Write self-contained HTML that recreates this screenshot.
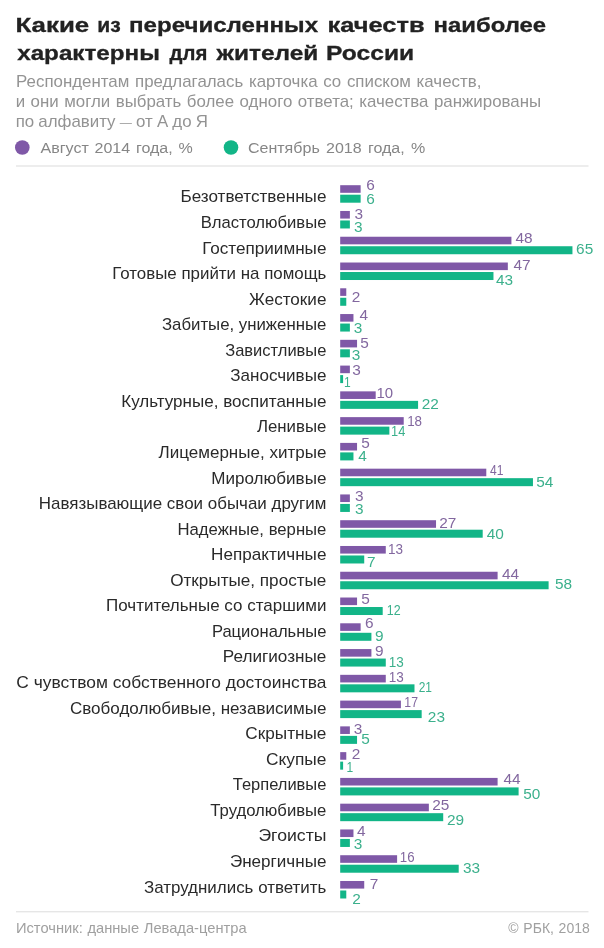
<!DOCTYPE html>
<html lang="ru"><head><meta charset="utf-8"><title>Какие из перечисленных качеств наиболее характерны для жителей России</title>
<style>
html,body{margin:0;padding:0;background:#fff}
svg{display:block}
text{font-family:"Liberation Sans",sans-serif}
.t{font-weight:bold;font-size:21px;fill:#222;stroke:#222;stroke-width:.3px}
.s{font-size:16px;fill:#939393}
.lg{font-size:15.5px;fill:#868686}
.l{font-size:15.7px;fill:#2a2a2a;text-anchor:end}
.vp{font-size:14px;fill:#82679f}
.vg{font-size:14px;fill:#3bb08c}
.f{font-size:14px;fill:#a0a0a0}
</style></head><body>
<svg width="604" height="948" viewBox="0 0 604 948">
<rect width="604" height="948" fill="#fff"/>

<g transform="translate(15.46 31.6) scale(1.2328 1)"><text class="t" x="0" y="0">Какие</text></g>
<g transform="translate(97.24 31.6) scale(1.0047 1)"><text class="t" x="0" y="0">из</text></g>
<g transform="translate(128.97 31.6) scale(1.1475 1)"><text class="t" x="0" y="0">перечисленных</text></g>
<g transform="translate(327.49 31.6) scale(1.2115 1)"><text class="t" x="0" y="0">качеств</text></g>
<g transform="translate(433.58 31.6) scale(1.1373 1)"><text class="t" x="0" y="0">наиболее</text></g>
<g transform="translate(17.20 60.2) scale(1.1527 1)"><text class="t" x="0" y="0">характерны</text></g>
<g transform="translate(169.60 60.2) scale(0.9722 1)"><text class="t" x="0" y="0">для</text></g>
<g transform="translate(216.59 60.2) scale(1.1642 1)"><text class="t" x="0" y="0">жителей</text></g>
<g transform="translate(326.03 60.2) scale(1.1725 1)"><text class="t" x="0" y="0">России</text></g>
<g transform="translate(16.08 87) scale(1.0550 1)"><text class="s" x="0" y="0" style="word-spacing:0.947px">Респондентам предлагалась карточка со списком качеств,</text></g>
<g transform="translate(15.64 107.3) scale(1.0550 1)"><text class="s" x="0" y="0" style="word-spacing:0.757px">и они могли выбрать более одного ответа; качества ранжированы</text></g>
<g transform="translate(15.64 127.4) scale(1.0550 1)"><text class="s" x="0" y="0" style="word-spacing:-0.491px">по алфавиту <tspan style="font-size:11.5px" dy="-1.4">—</tspan><tspan dy="1.4"> от</tspan> А до Я</text></g>
<circle cx="22.3" cy="147.5" r="7.3" fill="#7f58a7"/>
<circle cx="231" cy="147.5" r="7.3" fill="#12b587"/>
<g transform="translate(40.50 153.4) scale(1.0350 1)"><text class="lg" x="0" y="0" style="word-spacing:1.241px">Август 2014 года, %</text></g>
<g transform="translate(247.92 153.4) scale(1.0350 1)"><text class="lg" x="0" y="0" style="word-spacing:1.734px">Сентябрь 2018 года, %</text></g>
<rect x="16" y="165.5" width="572.5" height="1" fill="#dcdcdc"/>
<g transform="translate(326.4 202.40) scale(1.0906 1)"><text class="l" x="0" y="0">Безответственные</text></g>
<rect x="340.2" y="185.20" width="20.44" height="7.6" fill="#7f58a7"/>
<rect x="340.2" y="194.70" width="20.44" height="8" fill="#12b587"/>
<g transform="translate(366.32 189.50) scale(1.1 1)"><text class="vp" x="0" y="0">6</text></g>
<g transform="translate(366.32 203.70) scale(1.1 1)"><text class="vg" x="0" y="0">6</text></g>
<g transform="translate(326.4 227.96) scale(1.0603 1)"><text class="l" x="0" y="0">Властолюбивые</text></g>
<rect x="340.2" y="210.97" width="9.67" height="7.6" fill="#7f58a7"/>
<rect x="340.2" y="220.47" width="9.67" height="8" fill="#12b587"/>
<g transform="translate(354.41 218.80) scale(1.1 1)"><text class="vp" x="0" y="0">3</text></g>
<g transform="translate(354.11 231.70) scale(1.1 1)"><text class="vg" x="0" y="0">3</text></g>
<g transform="translate(326.4 253.52) scale(1.0907 1)"><text class="l" x="0" y="0">Гостеприимные</text></g>
<rect x="340.2" y="236.74" width="171.22" height="7.6" fill="#7f58a7"/>
<rect x="340.2" y="246.24" width="232.25" height="8" fill="#12b587"/>
<g transform="translate(515.55 242.60) scale(1.1 1)"><text class="vp" x="0" y="0">48</text></g>
<g transform="translate(576.12 254.00) scale(1.1 1)"><text class="vg" x="0" y="0">65</text></g>
<g transform="translate(326.4 279.08) scale(1.0775 1)"><text class="l" x="0" y="0">Готовые прийти на помощь</text></g>
<rect x="340.2" y="262.51" width="167.63" height="7.6" fill="#7f58a7"/>
<rect x="340.2" y="272.01" width="153.27" height="8" fill="#12b587"/>
<g transform="translate(513.55 270.30) scale(1.1 1)"><text class="vp" x="0" y="0">47</text></g>
<g transform="translate(496.05 284.70) scale(1.1 1)"><text class="vg" x="0" y="0">43</text></g>
<g transform="translate(326.4 304.64) scale(1.09 1)"><text class="l" x="0" y="0">Жестокие</text></g>
<rect x="340.2" y="288.28" width="6.08" height="7.6" fill="#7f58a7"/>
<rect x="340.2" y="297.78" width="6.08" height="8" fill="#12b587"/>
<g transform="translate(351.73 301.90) scale(1.1 1)"><text class="vp" x="0" y="0">2</text></g>
<g transform="translate(326.4 330.20) scale(1.0701 1)"><text class="l" x="0" y="0">Забитые, униженные</text></g>
<rect x="340.2" y="314.05" width="13.26" height="7.6" fill="#7f58a7"/>
<rect x="340.2" y="323.55" width="9.67" height="8" fill="#12b587"/>
<g transform="translate(359.55 320.40) scale(1.1 1)"><text class="vp" x="0" y="0">4</text></g>
<g transform="translate(353.71 333.30) scale(1.1 1)"><text class="vg" x="0" y="0">3</text></g>
<g transform="translate(326.4 355.76) scale(1.0515 1)"><text class="l" x="0" y="0">Завистливые</text></g>
<rect x="340.2" y="339.82" width="16.85" height="7.6" fill="#7f58a7"/>
<rect x="340.2" y="349.32" width="9.67" height="8" fill="#12b587"/>
<g transform="translate(360.18 348.20) scale(1.1 1)"><text class="vp" x="0" y="0">5</text></g>
<g transform="translate(351.71 360.10) scale(1.1 1)"><text class="vg" x="0" y="0">3</text></g>
<g transform="translate(326.4 381.32) scale(1.0869 1)"><text class="l" x="0" y="0">Заносчивые</text></g>
<rect x="340.2" y="365.59" width="9.67" height="7.6" fill="#7f58a7"/>
<rect x="340.2" y="375.09" width="2.90" height="8" fill="#12b587"/>
<g transform="translate(352.31 374.50) scale(1.1 1)"><text class="vp" x="0" y="0">3</text></g>
<g transform="translate(343.98 387.40) scale(0.861 1)"><text class="vg" x="0" y="0">1</text></g>
<g transform="translate(326.4 406.88) scale(1.0859 1)"><text class="l" x="0" y="0">Культурные, воспитанные</text></g>
<rect x="340.2" y="391.36" width="35.50" height="7.6" fill="#7f58a7"/>
<rect x="340.2" y="400.86" width="77.88" height="8" fill="#12b587"/>
<g transform="translate(376.56 397.80) scale(1.067 1)"><text class="vp" x="0" y="0">10</text></g>
<g transform="translate(421.73 408.70) scale(1.1 1)"><text class="vg" x="0" y="0">22</text></g>
<g transform="translate(326.4 432.44) scale(1.0722 1)"><text class="l" x="0" y="0">Ленивые</text></g>
<rect x="340.2" y="417.13" width="63.52" height="7.6" fill="#7f58a7"/>
<rect x="340.2" y="426.63" width="49.16" height="8" fill="#12b587"/>
<g transform="translate(407.18 426.00) scale(0.957 1)"><text class="vp" x="0" y="0">18</text></g>
<g transform="translate(391.12 436.00) scale(0.915 1)"><text class="vg" x="0" y="0">14</text></g>
<g transform="translate(326.4 458.00) scale(1.0839 1)"><text class="l" x="0" y="0">Лицемерные, хитрые</text></g>
<rect x="340.2" y="442.90" width="16.85" height="7.6" fill="#7f58a7"/>
<rect x="340.2" y="452.40" width="13.26" height="8" fill="#12b587"/>
<g transform="translate(361.18 447.90) scale(1.1 1)"><text class="vp" x="0" y="0">5</text></g>
<g transform="translate(358.15 461.40) scale(1.1 1)"><text class="vg" x="0" y="0">4</text></g>
<g transform="translate(326.4 483.56) scale(1.0867 1)"><text class="l" x="0" y="0">Миролюбивые</text></g>
<rect x="340.2" y="468.67" width="146.09" height="7.6" fill="#7f58a7"/>
<rect x="340.2" y="478.17" width="192.76" height="8" fill="#12b587"/>
<g transform="translate(490.12 474.60) scale(0.865 1)"><text class="vp" x="0" y="0">41</text></g>
<g transform="translate(536.18 487.00) scale(1.1 1)"><text class="vg" x="0" y="0">54</text></g>
<g transform="translate(326.4 509.12) scale(1.0804 1)"><text class="l" x="0" y="0">Навязывающие свои обычаи другим</text></g>
<rect x="340.2" y="494.44" width="9.67" height="7.6" fill="#7f58a7"/>
<rect x="340.2" y="503.94" width="9.67" height="8" fill="#12b587"/>
<g transform="translate(354.91 500.90) scale(1.1 1)"><text class="vp" x="0" y="0">3</text></g>
<g transform="translate(354.91 513.80) scale(1.1 1)"><text class="vg" x="0" y="0">3</text></g>
<g transform="translate(326.4 534.68) scale(1.0641 1)"><text class="l" x="0" y="0">Надежные, верные</text></g>
<rect x="340.2" y="520.21" width="95.83" height="7.6" fill="#7f58a7"/>
<rect x="340.2" y="529.71" width="142.50" height="8" fill="#12b587"/>
<g transform="translate(439.23 527.80) scale(1.1 1)"><text class="vp" x="0" y="0">27</text></g>
<g transform="translate(486.65 538.70) scale(1.1 1)"><text class="vg" x="0" y="0">40</text></g>
<g transform="translate(326.4 560.24) scale(1.0896 1)"><text class="l" x="0" y="0">Непрактичные</text></g>
<rect x="340.2" y="545.98" width="45.57" height="7.6" fill="#7f58a7"/>
<rect x="340.2" y="555.48" width="24.03" height="8" fill="#12b587"/>
<g transform="translate(388.07 553.60) scale(0.965 1)"><text class="vp" x="0" y="0">13</text></g>
<g transform="translate(367.01 566.50) scale(1.1 1)"><text class="vg" x="0" y="0">7</text></g>
<g transform="translate(326.4 585.80) scale(1.092 1)"><text class="l" x="0" y="0">Открытые, простые</text></g>
<rect x="340.2" y="571.75" width="157.40" height="7.6" fill="#7f58a7"/>
<rect x="340.2" y="581.25" width="208.40" height="8" fill="#12b587"/>
<g transform="translate(501.95 579.30) scale(1.1 1)"><text class="vp" x="0" y="0">44</text></g>
<g transform="translate(554.88 589.40) scale(1.1 1)"><text class="vg" x="0" y="0">58</text></g>
<g transform="translate(326.4 611.36) scale(1.082 1)"><text class="l" x="0" y="0">Почтительные со старшими</text></g>
<rect x="340.2" y="597.52" width="16.85" height="7.6" fill="#7f58a7"/>
<rect x="340.2" y="607.02" width="42.50" height="8" fill="#12b587"/>
<g transform="translate(361.18 603.50) scale(1.1 1)"><text class="vp" x="0" y="0">5</text></g>
<g transform="translate(386.75 614.90) scale(0.891 1)"><text class="vg" x="0" y="0">12</text></g>
<g transform="translate(326.4 636.92) scale(1.0547 1)"><text class="l" x="0" y="0">Рациональные</text></g>
<rect x="340.2" y="623.29" width="20.44" height="7.6" fill="#7f58a7"/>
<rect x="340.2" y="632.79" width="31.21" height="8" fill="#12b587"/>
<g transform="translate(365.02 628.40) scale(1.1 1)"><text class="vp" x="0" y="0">6</text></g>
<g transform="translate(375.08 641.30) scale(1.1 1)"><text class="vg" x="0" y="0">9</text></g>
<g transform="translate(326.4 662.48) scale(1.0929 1)"><text class="l" x="0" y="0">Религиозные</text></g>
<rect x="340.2" y="649.06" width="31.21" height="7.6" fill="#7f58a7"/>
<rect x="340.2" y="658.56" width="45.57" height="8" fill="#12b587"/>
<g transform="translate(375.08 656.00) scale(1.1 1)"><text class="vp" x="0" y="0">9</text></g>
<g transform="translate(388.67 666.90) scale(0.965 1)"><text class="vg" x="0" y="0">13</text></g>
<g transform="translate(326.4 688.04) scale(1.1081 1)"><text class="l" x="0" y="0">С чувством собственного достоинства</text></g>
<rect x="340.2" y="674.83" width="45.57" height="7.6" fill="#7f58a7"/>
<rect x="340.2" y="684.33" width="74.29" height="8" fill="#12b587"/>
<g transform="translate(388.67 681.80) scale(0.965 1)"><text class="vp" x="0" y="0">13</text></g>
<g transform="translate(418.70 692.10) scale(0.853 1)"><text class="vg" x="0" y="0">21</text></g>
<g transform="translate(326.4 713.60) scale(1.0847 1)"><text class="l" x="0" y="0">Свободолюбивые, независимые</text></g>
<rect x="340.2" y="700.60" width="60.70" height="7.6" fill="#7f58a7"/>
<rect x="340.2" y="710.10" width="81.47" height="8" fill="#12b587"/>
<g transform="translate(404.36 706.90) scale(0.877 1)"><text class="vp" x="0" y="0">17</text></g>
<g transform="translate(427.83 722.10) scale(1.1 1)"><text class="vg" x="0" y="0">23</text></g>
<g transform="translate(326.4 739.16) scale(1.0952 1)"><text class="l" x="0" y="0">Скрытные</text></g>
<rect x="340.2" y="726.37" width="9.67" height="7.6" fill="#7f58a7"/>
<rect x="340.2" y="735.87" width="16.85" height="8" fill="#12b587"/>
<g transform="translate(353.71 733.70) scale(1.1 1)"><text class="vp" x="0" y="0">3</text></g>
<g transform="translate(361.18 743.70) scale(1.1 1)"><text class="vg" x="0" y="0">5</text></g>
<g transform="translate(326.4 764.72) scale(1.1045 1)"><text class="l" x="0" y="0">Скупые</text></g>
<rect x="340.2" y="752.14" width="6.08" height="7.6" fill="#7f58a7"/>
<rect x="340.2" y="761.64" width="2.90" height="8" fill="#12b587"/>
<g transform="translate(351.73 758.60) scale(1.1 1)"><text class="vp" x="0" y="0">2</text></g>
<g transform="translate(346.38 771.50) scale(0.861 1)"><text class="vg" x="0" y="0">1</text></g>
<g transform="translate(326.4 790.28) scale(1.0505 1)"><text class="l" x="0" y="0">Терпеливые</text></g>
<rect x="340.2" y="777.91" width="157.40" height="7.6" fill="#7f58a7"/>
<rect x="340.2" y="787.41" width="178.40" height="8" fill="#12b587"/>
<g transform="translate(503.55 784.10) scale(1.1 1)"><text class="vp" x="0" y="0">44</text></g>
<g transform="translate(523.18 799.00) scale(1.1 1)"><text class="vg" x="0" y="0">50</text></g>
<g transform="translate(326.4 815.84) scale(1.0634 1)"><text class="l" x="0" y="0">Трудолюбивые</text></g>
<rect x="340.2" y="803.68" width="88.65" height="7.6" fill="#7f58a7"/>
<rect x="340.2" y="813.18" width="103.01" height="8" fill="#12b587"/>
<g transform="translate(432.13 810.20) scale(1.1 1)"><text class="vp" x="0" y="0">25</text></g>
<g transform="translate(447.03 824.60) scale(1.1 1)"><text class="vg" x="0" y="0">29</text></g>
<g transform="translate(326.4 841.40) scale(1.1244 1)"><text class="l" x="0" y="0">Эгоисты</text></g>
<rect x="340.2" y="829.45" width="13.26" height="7.6" fill="#7f58a7"/>
<rect x="340.2" y="838.95" width="9.67" height="8" fill="#12b587"/>
<g transform="translate(356.95 835.70) scale(1.1 1)"><text class="vp" x="0" y="0">4</text></g>
<g transform="translate(353.81 848.60) scale(1.1 1)"><text class="vg" x="0" y="0">3</text></g>
<g transform="translate(326.4 866.96) scale(1.088 1)"><text class="l" x="0" y="0">Энергичные</text></g>
<rect x="340.2" y="855.22" width="56.90" height="7.6" fill="#7f58a7"/>
<rect x="340.2" y="864.72" width="118.50" height="8" fill="#12b587"/>
<g transform="translate(399.79 861.70) scale(0.95 1)"><text class="vp" x="0" y="0">16</text></g>
<g transform="translate(463.01 872.90) scale(1.1 1)"><text class="vg" x="0" y="0">33</text></g>
<g transform="translate(326.4 892.52) scale(1.0788 1)"><text class="l" x="0" y="0">Затруднились ответить</text></g>
<rect x="340.2" y="880.99" width="24.03" height="7.6" fill="#7f58a7"/>
<rect x="340.2" y="890.49" width="6.08" height="8" fill="#12b587"/>
<g transform="translate(369.71 888.60) scale(1.1 1)"><text class="vp" x="0" y="0">7</text></g>
<g transform="translate(352.13 903.50) scale(1.1 1)"><text class="vg" x="0" y="0">2</text></g>
<rect x="16" y="911.3" width="572.5" height="1" fill="#dcdcdc"/>
<g transform="translate(15.95 932.5) scale(1.0500 1)"><text class="f" x="0" y="0" style="word-spacing:0.554px">Источник: данные Левада-центра</text></g>
<g transform="translate(508.35 932.5) scale(1.0000 1)"><text class="f" x="0" y="0" style="word-spacing:0.800px">© РБК, 2018</text></g>
</svg></body></html>
